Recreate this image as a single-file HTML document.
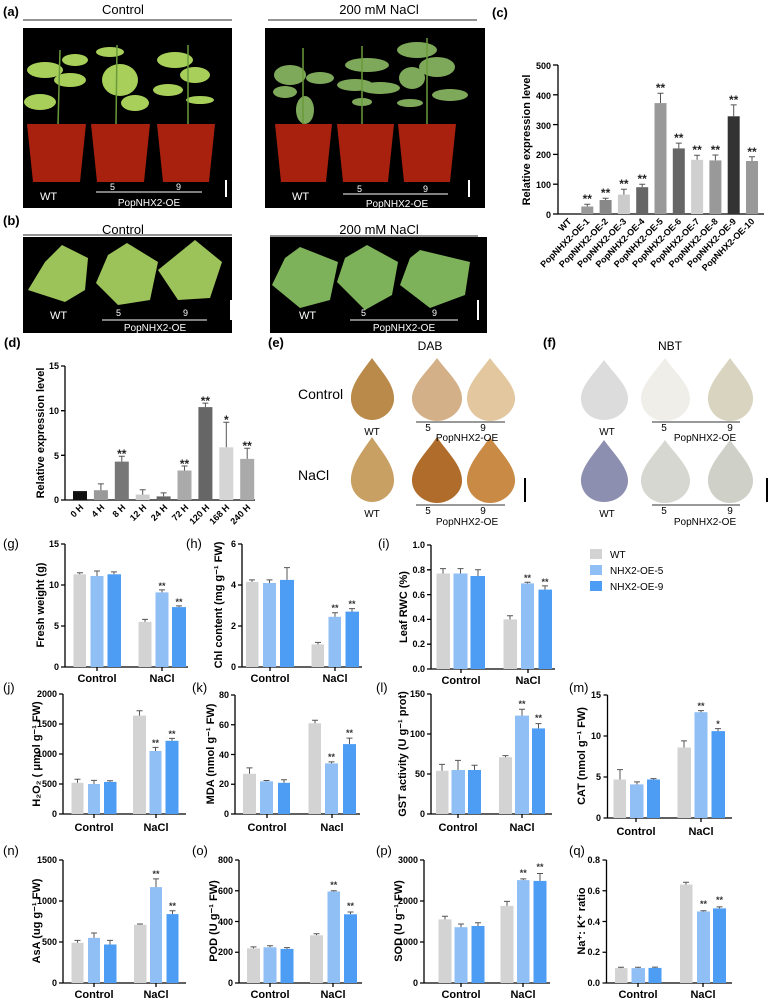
<!DOCTYPE html>
<html><head><meta charset="utf-8"><style>
body{margin:0;background:#fff}
svg{display:block}
text{font-family:"Liberation Sans",sans-serif}
.t{font-size:9px;font-weight:bold}
.yl{font-size:11px;font-weight:bold}
.xl{font-size:11px;font-weight:bold}
.pl{font-size:13px}
.st{font-size:9px;font-weight:bold;fill:#333}
.ax{stroke:#000;stroke-width:1.3;fill:none}
.e{stroke:#555;stroke-width:1;fill:none}
.w{fill:#d3d3d3}.a{fill:#8fbff5}.b{fill:#4d9df5}
.wt{fill:#fff;font-size:11px}
</style></head><body>
<svg width="769" height="1000" viewBox="0 0 769 1000" xmlns="http://www.w3.org/2000/svg">
<!-- (a) -->
<text x="3" y="16" class="pl" font-weight="bold">(a)</text>
<text x="123" y="14" class="pl" text-anchor="middle">Control</text>
<line x1="23" y1="20" x2="232" y2="20" stroke="#555" stroke-width="1.2"/>
<text x="379" y="14" class="pl" text-anchor="middle">200 mM NaCl</text>
<line x1="268" y1="20" x2="477" y2="20" stroke="#555" stroke-width="1.2"/>
<rect x="23" y="28" width="209" height="180" fill="#000"/>
<rect x="265" y="28" width="220" height="180" fill="#000"/>
<g fill="#a8cf5a">
<ellipse cx="45" cy="70" rx="18" ry="8"/><ellipse cx="70" cy="80" rx="16" ry="7"/><ellipse cx="40" cy="102" rx="16" ry="8"/><ellipse cx="75" cy="60" rx="13" ry="6"/>
<ellipse cx="120" cy="80" rx="18" ry="16"/><ellipse cx="135" cy="103" rx="14" ry="8"/><ellipse cx="110" cy="52" rx="14" ry="5"/>
<ellipse cx="175" cy="60" rx="18" ry="8"/><ellipse cx="195" cy="75" rx="15" ry="8"/><ellipse cx="168" cy="90" rx="15" ry="6"/><ellipse cx="200" cy="100" rx="14" ry="4"/>
</g>
<g fill="#7ea85a">
<ellipse cx="290" cy="75" rx="16" ry="10"/><ellipse cx="320" cy="78" rx="14" ry="6"/><ellipse cx="305" cy="110" rx="9" ry="14"/><ellipse cx="285" cy="92" rx="12" ry="6"/>
<ellipse cx="367" cy="65" rx="22" ry="7"/><ellipse cx="355" cy="85" rx="18" ry="6"/><ellipse cx="380" cy="88" rx="20" ry="6"/><ellipse cx="362" cy="102" rx="10" ry="4"/>
<ellipse cx="417" cy="50" rx="20" ry="8"/><ellipse cx="437" cy="67" rx="18" ry="10"/><ellipse cx="412" cy="78" rx="13" ry="11"/><ellipse cx="450" cy="95" rx="18" ry="6"/><ellipse cx="410" cy="103" rx="13" ry="4"/>
</g>
<g stroke="#6a9a3a" stroke-width="1.5">
<line x1="60" y1="50" x2="58" y2="125"/><line x1="117" y1="45" x2="116" y2="125"/><line x1="188" y1="45" x2="188" y2="125"/>
<line x1="303" y1="48" x2="303" y2="125"/><line x1="362" y1="46" x2="362" y2="125"/><line x1="427" y1="38" x2="427" y2="125"/>
</g>
<g fill="#a8200e">
<path d="M27 124 H86 L80 182 H33Z"/><path d="M91 124 H150 L144 182 H97Z"/><path d="M157 124 H215 L209 182 H163Z"/>
<path d="M275 124 H332 L326 182 H281Z"/><path d="M337 124 H394 L388 182 H343Z"/><path d="M398 124 H456 L450 182 H404Z"/>
</g>
<g fill="#fff">
<text x="40" y="200" class="wt">WT</text><text x="110" y="190" font-size="9">5</text><text x="176" y="190" font-size="9">9</text>
<text x="149" y="206" text-anchor="middle" font-size="10">PopNHX2-OE</text>
<text x="292" y="200" class="wt">WT</text><text x="357" y="192" font-size="9">5</text><text x="423" y="192" font-size="9">9</text>
<text x="397" y="207" text-anchor="middle" font-size="10">PopNHX2-OE</text>
</g>
<g stroke="#fff" stroke-width="1"><line x1="96" y1="192" x2="202" y2="192"/><line x1="343" y1="194" x2="448" y2="194"/></g>
<g stroke="#fff" stroke-width="2"><line x1="226" y1="180" x2="226" y2="197"/><line x1="469" y1="180" x2="469" y2="197"/></g>
<!-- (b) -->
<text x="3" y="225" class="pl" font-weight="bold">(b)</text>
<text x="123" y="234" class="pl" text-anchor="middle">Control</text>
<line x1="23" y1="235" x2="232" y2="235" stroke="#555" stroke-width="1.2"/>
<text x="379" y="234" class="pl" text-anchor="middle">200 mM NaCl</text>
<line x1="270" y1="236" x2="478" y2="236" stroke="#555" stroke-width="1.2"/>
<rect x="23" y="237" width="209" height="96" fill="#000"/>
<rect x="270" y="237" width="217" height="96" fill="#000"/>
<g fill="#9cc35a">
<path d="M62 245 L88 258 L85 290 L65 302 L28 290 L45 262Z"/><path d="M127 243 L158 262 L150 300 L118 305 L96 283 L108 255Z"/><path d="M195 240 L222 262 L210 298 L178 300 L158 270Z"/>
</g>
<g fill="#7eb25a">
<path d="M300 247 L338 262 L330 300 L300 308 L272 285 L285 258Z"/><path d="M367 245 L398 262 L392 295 L365 310 L337 282 L345 258Z"/><path d="M420 250 L470 262 L465 295 L430 308 L400 285 L410 258Z"/>
</g>
<g fill="#fff">
<text x="50" y="319" class="wt">WT</text><text x="116" y="316" font-size="9">5</text><text x="183" y="316" font-size="9">9</text>
<text x="155" y="331" text-anchor="middle" font-size="10">PopNHX2-OE</text>
<text x="299" y="319" class="wt">WT</text><text x="361" y="316" font-size="9">5</text><text x="432" y="316" font-size="9">9</text>
<text x="404" y="331" text-anchor="middle" font-size="10">PopNHX2-OE</text>
</g>
<g stroke="#fff" stroke-width="1"><line x1="102" y1="320" x2="207" y2="320"/><line x1="350" y1="320" x2="458" y2="320"/></g>
<g stroke="#fff" stroke-width="2"><line x1="231" y1="300" x2="231" y2="320"/><line x1="478" y1="300" x2="478" y2="320"/></g>

<!-- (c) -->
<text x="492" y="17" class="pl" font-weight="bold">(c)</text>
<text transform="translate(530,140) rotate(-90)" class="yl" text-anchor="middle" font-size="12">Relative expression level</text>
<line x1="558" y1="65" x2="558" y2="214" class="ax"/>
<line x1="558" y1="214" x2="764" y2="214" class="ax"/>
<g class="ax"><line x1="553" y1="214" x2="558" y2="214"/><line x1="553" y1="184.2" x2="558" y2="184.2"/><line x1="553" y1="154.4" x2="558" y2="154.4"/><line x1="553" y1="124.6" x2="558" y2="124.6"/><line x1="553" y1="94.8" x2="558" y2="94.8"/><line x1="553" y1="65" x2="558" y2="65"/></g>
<g class="t" text-anchor="end" font-size="11"><text x="551" y="218">0</text><text x="551" y="188">100</text><text x="551" y="158">200</text><text x="551" y="129">300</text><text x="551" y="99">400</text><text x="551" y="69">500</text></g>
<rect x="581.3" y="206.5" width="12" height="7.5" fill="#999"/>
<rect x="599.6" y="200" width="12" height="14" fill="#888"/>
<rect x="617.9" y="194.6" width="12" height="19.4" fill="#ccc"/>
<rect x="636.2" y="187.2" width="12" height="26.8" fill="#666"/>
<rect x="654.5" y="103.1" width="12" height="110.9" fill="#999"/>
<rect x="672.8" y="148.4" width="12" height="65.6" fill="#666"/>
<rect x="691.1" y="159.8" width="12" height="54.2" fill="#d0d0d0"/>
<rect x="709.4" y="160.4" width="12" height="53.6" fill="#999"/>
<rect x="727.7" y="116.3" width="12" height="97.7" fill="#333"/>
<rect x="746" y="161" width="12" height="53" fill="#999"/>
<g class="e"><path d="M587.3 206.5V204.2M584.3 204.2h6M605.6 200V198.2M602.6 198.2h6M623.9 194.6V189.3M620.9 189.3h6M642.2 187.2V184.2M639.2 184.2h6M660.5 103.1V93.3M657.5 93.3h6M678.8 148.4V143.1M675.8 143.1h6M697.1 159.8V155.3M694.1 155.3h6M715.4 160.4V155M712.4 155h6M733.7 116.3V104.9M730.7 104.9h6M752 161V156.8M749 156.8h6"/></g>
<g font-size="12" font-weight="bold" text-anchor="middle" fill="#222"><text x="587.3" y="203">**</text><text x="605.6" y="197">**</text><text x="623.9" y="188">**</text><text x="642.2" y="183">**</text><text x="660.5" y="92">**</text><text x="678.8" y="142">**</text><text x="697.1" y="154">**</text><text x="715.4" y="154">**</text><text x="733.7" y="104">**</text><text x="752" y="156">**</text></g>
<g class="t" font-size="9.5" text-anchor="end">
<text transform="translate(572,222) rotate(-45)">WT</text>
<text transform="translate(590,222) rotate(-45)">PopNHX2-OE-1</text>
<text transform="translate(608.6,222) rotate(-45)">PopNHX2-OE-2</text>
<text transform="translate(626.9,222) rotate(-45)">PopNHX2-OE-3</text>
<text transform="translate(645.2,222) rotate(-45)">PopNHX2-OE-4</text>
<text transform="translate(663.5,222) rotate(-45)">PopNHX2-OE-5</text>
<text transform="translate(681.8,222) rotate(-45)">PopNHX2-OE-6</text>
<text transform="translate(700.1,222) rotate(-45)">PopNHX2-OE-7</text>
<text transform="translate(718.4,222) rotate(-45)">PopNHX2-OE-8</text>
<text transform="translate(736.7,222) rotate(-45)">PopNHX2-OE-9</text>
<text transform="translate(755,222) rotate(-45)">PopNHX2-OE-10</text>
</g>

<!-- (d) -->
<text x="4" y="347" class="pl" font-weight="bold">(d)</text>
<text transform="translate(44,433) rotate(-90)" class="yl" text-anchor="middle">Relative expression level</text>
<line x1="65" y1="366" x2="65" y2="500" class="ax"/><line x1="65" y1="500" x2="255" y2="500" class="ax"/>
<g class="ax"><path d="M61 500h4M61 455.3h4M61 410.7h4M61 366h4"/></g>
<g class="t" text-anchor="end"><text x="59" y="503">0</text><text x="59" y="459">5</text><text x="59" y="414">10</text><text x="59" y="369">15</text></g>
<rect x="73" y="491.1" width="14" height="8.9" fill="#111"/>
<rect x="93.9" y="490.2" width="14" height="9.8" fill="#999"/>
<rect x="114.8" y="461.6" width="14" height="38.4" fill="#777"/>
<rect x="135.7" y="494.6" width="14" height="5.4" fill="#ccc"/>
<rect x="156.6" y="496.4" width="14" height="3.6" fill="#666"/>
<rect x="177.5" y="470.5" width="14" height="29.5" fill="#aaa"/>
<rect x="198.4" y="407.1" width="14" height="92.9" fill="#666"/>
<rect x="219.3" y="447.3" width="14" height="52.7" fill="#d5d5d5"/>
<rect x="240.2" y="458.9" width="14" height="41.1" fill="#aaa"/>
<g class="e"><path d="M100.9 490.2V483.9M97.9 483.9h6M121.8 461.6V456.2M118.8 456.2h6M142.7 494.6V489.7M139.7 489.7h6M163.6 496.4V492.9M160.6 492.9h6M184.5 470.5V466M181.5 466h6M205.4 407.1V403.1M202.4 403.1h6M226.3 447.3V422.3M223.3 422.3h6M247.2 458.9V448.2M244.2 448.2h6"/></g>
<g font-size="12" font-weight="bold" text-anchor="middle" fill="#222"><text x="121.8" y="458">**</text><text x="184.5" y="468">**</text><text x="205.4" y="405">**</text><text x="226.3" y="424">*</text><text x="247.2" y="450">**</text></g>
<g class="t" text-anchor="end">
<text transform="translate(84,508) rotate(-45)">0 H</text><text transform="translate(105,508) rotate(-45)">4 H</text><text transform="translate(126,508) rotate(-45)">8 H</text><text transform="translate(147,508) rotate(-45)">12 H</text><text transform="translate(168,508) rotate(-45)">24 H</text><text transform="translate(189,508) rotate(-45)">72 H</text><text transform="translate(210,508) rotate(-45)">120 H</text><text transform="translate(230,508) rotate(-45)">168 H</text><text transform="translate(251,508) rotate(-45)">240 H</text>
</g>

<!-- (e) -->
<text x="268" y="347" class="pl" font-weight="bold">(e)</text>
<text x="430" y="350" font-size="12" text-anchor="middle">DAB</text>
<text x="298" y="399" font-size="14">Control</text>
<text x="298" y="480" font-size="14">NaCl</text>
<g>
<path d="M372 358 C362 372 350 385 351 400 C352 412 362 420 372 420 C382 420 393 412 394 400 C395 385 382 372 372 358Z" fill="#b98a4a"/>
<path d="M437 358 C427 372 411 385 412 400 C413 412 425 421 437 421 C449 421 461 412 462 400 C463 385 447 372 437 358Z" fill="#d4b088"/>
<path d="M490 358 C480 372 466 385 467 400 C468 412 478 421 490 421 C502 421 514 412 515 400 C516 385 500 372 490 358Z" fill="#e3c79f"/>
<path d="M372 437 C362 452 350 466 351 482 C352 494 362 502 372 502 C382 502 393 494 394 482 C395 466 382 452 372 437Z" fill="#c9a063"/>
<path d="M437 437 C427 452 411 466 412 482 C413 494 425 503 437 503 C449 503 461 494 462 482 C463 466 447 452 437 437Z" fill="#b06c2a"/>
<path d="M490 437 C480 452 466 466 467 482 C468 494 478 503 490 503 C502 503 514 494 515 482 C516 466 500 452 490 437Z" fill="#c88a45"/>
</g>
<g stroke="#333" stroke-width="1"><line x1="416" y1="422" x2="505" y2="422"/><line x1="416" y1="505" x2="505" y2="505"/></g>
<line x1="525" y1="478" x2="525" y2="502" stroke="#000" stroke-width="2"/>
<g font-size="10" text-anchor="middle"><text x="372" y="435">WT</text><text x="428" y="431">5</text><text x="483" y="431">9</text><text x="467" y="441">PopNHX2-OE</text>
<text x="372" y="517">WT</text><text x="428" y="514">5</text><text x="483" y="514">9</text><text x="467" y="525">PopNHX2-OE</text></g>

<!-- (f) -->
<text x="543" y="347" class="pl" font-weight="bold">(f)</text>
<text x="670" y="350" font-size="12" text-anchor="middle">NBT</text>
<path d="M604 360 C594 374 580 386 581 400 C582 412 592 420 604 420 C616 420 627 412 628 400 C629 386 614 374 604 360Z" fill="#dcdcdc"/>
<path d="M665 358 C655 372 640 386 641 400 C642 412 652 421 665 421 C678 421 689 412 690 400 C691 386 675 372 665 358Z" fill="#f0eee8"/>
<path d="M730 358 C720 372 707 386 708 400 C709 412 718 421 730 421 C742 421 752 412 753 400 C754 386 740 372 730 358Z" fill="#d8d4c0"/>
<path d="M604 440 C594 454 580 468 581 482 C582 494 592 502 604 502 C616 502 627 494 628 482 C629 468 614 454 604 440Z" fill="#8d8fb0"/>
<path d="M665 440 C655 454 640 468 641 482 C642 494 652 503 665 503 C678 503 689 494 690 482 C691 468 675 454 665 440Z" fill="#d6d7d0"/>
<path d="M730 440 C720 454 707 468 708 482 C709 494 718 503 730 503 C742 503 752 494 753 482 C754 468 740 454 730 440Z" fill="#cfd0c8"/>
<g stroke="#333" stroke-width="1"><line x1="652" y1="422" x2="740" y2="422"/><line x1="652" y1="505" x2="740" y2="505"/></g>
<line x1="767" y1="478" x2="767" y2="502" stroke="#000" stroke-width="2"/>
<g font-size="10" text-anchor="middle"><text x="607" y="435">WT</text><text x="664" y="431">5</text><text x="730" y="431">9</text><text x="705" y="441">PopNHX2-OE</text>
<text x="607" y="517">WT</text><text x="664" y="514">5</text><text x="730" y="514">9</text><text x="705" y="525">PopNHX2-OE</text></g>

<!-- legend -->
<rect x="590" y="549" width="12" height="10" class="w"/><rect x="590" y="565" width="12" height="10" class="a"/><rect x="590" y="581" width="12" height="10" class="b"/>
<g font-size="10"><text x="610" y="558">WT</text><text x="610" y="574">NHX2-OE-5</text><text x="610" y="590">NHX2-OE-9</text></g>

<!-- (g) -->
<text x="3" y="548" class="pl">(g)</text>
<text transform="translate(44,605) rotate(-90)" class="yl" text-anchor="middle">Fresh weight (g)</text>
<line x1="65" y1="544" x2="65" y2="667" class="ax"/><line x1="65" y1="667" x2="188" y2="667" class="ax"/>
<g class="ax"><path d="M61 667h4M61 626h4M61 585h4M61 544h4M97 667v4M162 667v4"/></g>
<g class="t" text-anchor="end"><text x="59" y="670">0</text><text x="59" y="629">5</text><text x="59" y="588">10</text><text x="59" y="547">15</text></g>
<rect x="73.5" y="574.3" width="12.5" height="92.7" class="w"/><rect x="90.5" y="576" width="13" height="91" class="a"/><rect x="107.5" y="574.3" width="13.5" height="92.7" class="b"/>
<rect x="138.5" y="621.9" width="13" height="45.1" class="w"/><rect x="155.5" y="592.4" width="13" height="74.6" class="a"/><rect x="172" y="607.1" width="14" height="59.9" class="b"/>
<g class="e"><path d="M79.7 574.3V572.7M77 572.7h6M97 576V571M94 571h6M114 574.3V571.9M111 571.9h6M145 621.9V619.4M142 619.4h6M162 592.4V589.9M159 589.9h6M179 607.1V605.9M176 605.9h6"/></g>
<g class="st" text-anchor="middle"><text x="162" y="589">**</text><text x="179" y="605">**</text></g>
<g class="xl" text-anchor="middle"><text x="97" y="682">Control</text><text x="162" y="682">NaCl</text></g>

<!-- (h) -->
<text x="186" y="548" class="pl">(h)</text>
<text transform="translate(222,605) rotate(-90)" class="yl" text-anchor="middle">Chl content (mg g⁻¹ FW)</text>
<line x1="242" y1="544" x2="242" y2="667" class="ax"/><line x1="242" y1="667" x2="362" y2="667" class="ax"/>
<g class="ax"><path d="M238 667h4M238 626h4M238 585h4M238 544h4M270 667v4M335 667v4"/></g>
<g class="t" text-anchor="end"><text x="236" y="670">0</text><text x="236" y="629">2</text><text x="236" y="588">4</text><text x="236" y="547">6</text></g>
<rect x="246" y="581.9" width="12.5" height="85.1" class="w"/><rect x="263" y="583" width="13" height="84" class="a"/><rect x="280" y="579.9" width="14" height="87.1" class="b"/>
<rect x="311.5" y="644.4" width="12.5" height="22.6" class="w"/><rect x="328.5" y="616.8" width="12.5" height="50.2" class="a"/><rect x="345.5" y="611.6" width="13.5" height="55.4" class="b"/>
<g class="e"><path d="M252 581.9V579.9M249 579.9h6M269.5 583V579.9M266.5 579.9h6M287 579.9V567.6M284 567.6h6M318 644.4V642.4M315 642.4h6M335 616.8V612.7M332 612.7h6M352 611.6V608.6M349 608.6h6"/></g>
<g class="st" text-anchor="middle"><text x="335" y="611">**</text><text x="352" y="607">**</text></g>
<g class="xl" text-anchor="middle"><text x="270" y="682">Control</text><text x="335" y="682">NaCl</text></g>

<!-- (i) -->
<text x="378" y="548" class="pl">(i)</text>
<text transform="translate(407,607) rotate(-90)" class="yl" text-anchor="middle">Leaf RWC (%)</text>
<line x1="431" y1="545" x2="431" y2="669" class="ax"/><line x1="431" y1="669" x2="555" y2="669" class="ax"/>
<g class="ax"><path d="M427 669h4M427 644.2h4M427 619.4h4M427 594.6h4M427 569.8h4M427 545h4M461 669v4M528 669v4"/></g>
<g class="t" text-anchor="end"><text x="425" y="672">0.0</text><text x="425" y="647">0.2</text><text x="425" y="622">0.4</text><text x="425" y="598">0.6</text><text x="425" y="573">0.8</text><text x="425" y="548">1.0</text></g>
<rect x="436.5" y="573.5" width="13.5" height="95.5" class="w"/><rect x="453.5" y="573.5" width="14" height="95.5" class="a"/><rect x="470.5" y="576" width="14.5" height="93" class="b"/>
<rect x="503.5" y="619.4" width="13.5" height="49.6" class="w"/><rect x="521" y="583.4" width="13" height="85.6" class="a"/><rect x="538.5" y="589.6" width="13.5" height="79.4" class="b"/>
<g class="e"><path d="M443 573.5V568.6M440 568.6h6M460.5 573.5V568.6M457.5 568.6h6M478 576V569.8M475 569.8h6M510 619.4V615.7M507 615.7h6M527.5 583.4V582.2M524.5 582.2h6M545 589.6V585.9M542 585.9h6"/></g>
<g class="st" text-anchor="middle"><text x="527.5" y="581">**</text><text x="545" y="585">**</text></g>
<g class="xl" text-anchor="middle"><text x="461" y="684">Control</text><text x="528" y="684">NaCl</text></g>

<!-- (j) -->
<text x="3" y="692" class="pl">(j)</text>
<text transform="translate(40,754) rotate(-90)" class="yl" text-anchor="middle">H₂O₂ ( μmol g⁻¹ FW)</text>
<line x1="63" y1="694" x2="63" y2="814" class="ax"/><line x1="63" y1="814" x2="186" y2="814" class="ax"/>
<g class="ax"><path d="M59 814h4M59 784h4M59 754h4M59 724h4M59 694h4M94 814v4M156 814v4"/></g>
<g class="t" text-anchor="end"><text x="57" y="817">0</text><text x="57" y="787">500</text><text x="57" y="757">1000</text><text x="57" y="727">1500</text><text x="57" y="697">2000</text></g>
<rect x="71.5" y="782.8" width="12" height="31.2" class="w"/><rect x="88" y="784" width="12" height="30" class="a"/><rect x="104" y="781.9" width="12.5" height="32.1" class="b"/>
<rect x="133" y="715.6" width="13" height="98.4" class="w"/><rect x="149.5" y="751" width="12" height="63" class="a"/><rect x="165.5" y="740.8" width="13" height="73.2" class="b"/>
<g class="e"><path d="M77.5 782.8V779.2M74.5 779.2h6M94 784V780.4M91 780.4h6M110 781.9V780.7M107 780.7h6M139.5 715.6V710.8M136.5 710.8h6M155.5 751V747.4M152.5 747.4h6M172 740.8V738.4M169 738.4h6"/></g>
<g class="st" text-anchor="middle"><text x="155.5" y="746">**</text><text x="172" y="737">**</text></g>
<g class="xl" text-anchor="middle"><text x="94" y="831">Control</text><text x="156" y="831">NaCl</text></g>

<!-- (k) -->
<text x="192" y="692" class="pl">(k)</text>
<text transform="translate(214,754) rotate(-90)" class="yl" text-anchor="middle">MDA (nmol g⁻¹ FW)</text>
<line x1="235" y1="695" x2="235" y2="814" class="ax"/><line x1="235" y1="814" x2="360" y2="814" class="ax"/>
<g class="ax"><path d="M231 814h4M231 784.25h4M231 754.5h4M231 724.75h4M231 695h4M267 814v4M332 814v4"/></g>
<g class="t" text-anchor="end"><text x="229" y="817">0</text><text x="229" y="787">20</text><text x="229" y="758">40</text><text x="229" y="728">60</text><text x="229" y="698">80</text></g>
<rect x="243" y="773.8" width="13" height="40.2" class="w"/><rect x="260" y="781.3" width="13" height="32.7" class="a"/><rect x="278" y="782.8" width="12" height="31.2" class="b"/>
<rect x="308.5" y="723.3" width="12.5" height="90.7" class="w"/><rect x="325" y="763.4" width="13" height="50.6" class="a"/><rect x="343" y="744.1" width="13" height="69.9" class="b"/>
<g class="e"><path d="M249.5 773.8V767.9M246.5 767.9h6M266.5 781.3V780.5M263.5 780.5h6M284 782.8V779.8M281 779.8h6M315 723.3V720.3M312 720.3h6M331.5 763.4V761.9M328.5 761.9h6M349.5 744.1V738.1M346.5 738.1h6"/></g>
<g class="st" text-anchor="middle"><text x="331.5" y="760">**</text><text x="349.5" y="736">**</text></g>
<g class="xl" text-anchor="middle"><text x="267" y="831">Control</text><text x="332" y="831">Nacl</text></g>

<!-- (l) -->
<text x="376" y="692" class="pl">(l)</text>
<text transform="translate(406,754) rotate(-90)" class="yl" text-anchor="middle">GST activity (U g⁻¹ prot)</text>
<line x1="431" y1="694" x2="431" y2="814" class="ax"/><line x1="431" y1="814" x2="552" y2="814" class="ax"/>
<g class="ax"><path d="M427 814h4M427 774h4M427 734h4M427 694h4M458 814v4M522 814v4"/></g>
<g class="t" text-anchor="end"><text x="425" y="817">0</text><text x="425" y="777">50</text><text x="425" y="737">100</text><text x="425" y="697">150</text></g>
<rect x="436" y="770.8" width="12.5" height="43.2" class="w"/><rect x="451.5" y="770" width="13.5" height="44" class="a"/><rect x="468" y="770" width="13" height="44" class="b"/>
<rect x="499" y="757.2" width="13" height="56.8" class="w"/><rect x="515" y="715.6" width="14" height="98.4" class="a"/><rect x="532" y="728.4" width="13" height="85.6" class="b"/>
<g class="e"><path d="M442 770.8V764.4M439 764.4h6M458 770V760.4M455 760.4h6M474.5 770V765.2M471.5 765.2h6M505.5 757.2V755.6M502.5 755.6h6M522 715.6V709.2M519 709.2h6M538.5 728.4V723.6M535.5 723.6h6"/></g>
<g class="st" text-anchor="middle"><text x="522" y="707">**</text><text x="538.5" y="721">**</text></g>
<g class="xl" text-anchor="middle"><text x="458" y="831">Control</text><text x="522" y="831">NaCl</text></g>

<!-- (m) -->
<text x="569" y="692" class="pl">(m)</text>
<text transform="translate(585,756) rotate(-90)" class="yl" text-anchor="middle">CAT (nmol g⁻¹ FW)</text>
<line x1="607.5" y1="695" x2="607.5" y2="818" class="ax"/><line x1="607.5" y1="818" x2="732" y2="818" class="ax"/>
<g class="ax"><path d="M603.5 818h4M603.5 777h4M603.5 736h4M603.5 695h4M636 818v4M701 818v4"/></g>
<g class="t" text-anchor="end"><text x="601" y="821">0</text><text x="601" y="780">5</text><text x="601" y="739">10</text><text x="601" y="698">15</text></g>
<rect x="613.5" y="779.5" width="12.5" height="38.5" class="w"/><rect x="630" y="784.4" width="13.5" height="33.6" class="a"/><rect x="647" y="779.5" width="13" height="38.5" class="b"/>
<rect x="677.5" y="747.5" width="13.5" height="70.5" class="w"/><rect x="694.5" y="712.2" width="13" height="105.8" class="a"/><rect x="711.5" y="731.1" width="13.5" height="86.9" class="b"/>
<g class="e"><path d="M620 779.5V769.6M617 769.6h6M637 784.4V781.9M634 781.9h6M653.5 779.5V778.6M650.5 778.6h6M684 747.5V740.9M681 740.9h6M701 712.2V710.6M698 710.6h6M718 731.1V728.6M715 728.6h6"/></g>
<g class="st" text-anchor="middle"><text x="701" y="709">**</text><text x="718" y="727">*</text></g>
<g class="xl" text-anchor="middle"><text x="636" y="835">Control</text><text x="701" y="835">NaCl</text></g>

<!-- (n) -->
<text x="3" y="855" class="pl">(n)</text>
<text transform="translate(40,921) rotate(-90)" class="yl" text-anchor="middle">AsA (ug g⁻¹ FW)</text>
<line x1="63" y1="860" x2="63" y2="983" class="ax"/><line x1="63" y1="983" x2="186" y2="983" class="ax"/>
<g class="ax"><path d="M59 983h4M59 942h4M59 901h4M59 860h4M94 983v4M156 983v4"/></g>
<g class="t" text-anchor="end"><text x="57" y="986">0</text><text x="57" y="945">500</text><text x="57" y="904">1000</text><text x="57" y="863">1500</text></g>
<rect x="71.5" y="942.8" width="12" height="40.2" class="w"/><rect x="88" y="937.9" width="12" height="45.1" class="a"/><rect x="104" y="944.5" width="12.5" height="38.5" class="b"/>
<rect x="134" y="924.8" width="12.5" height="58.2" class="w"/><rect x="150" y="887.1" width="12" height="95.9" class="a"/><rect x="166.5" y="914.1" width="12" height="68.9" class="b"/>
<g class="e"><path d="M77.5 942.8V940.4M74.5 940.4h6M94 937.9V933M91 933h6M110 944.5V940.4M107 940.4h6M140 924.8V924M137 924h6M156 887.1V878.9M153 878.9h6M172.5 914.1V910.8M169.5 910.8h6"/></g>
<g class="st" text-anchor="middle"><text x="156" y="877">**</text><text x="172.5" y="909">**</text></g>
<g class="xl" text-anchor="middle"><text x="94" y="998">Control</text><text x="156" y="998">NaCl</text></g>

<!-- (o) -->
<text x="192" y="855" class="pl">(o)</text>
<text transform="translate(217,921) rotate(-90)" class="yl" text-anchor="middle">POD (U g⁻¹ FW)</text>
<line x1="239" y1="860" x2="239" y2="983" class="ax"/><line x1="239" y1="983" x2="362" y2="983" class="ax"/>
<g class="ax"><path d="M235 983h4M235 952.25h4M235 921.5h4M235 890.75h4M235 860h4M270 983v4M333 983v4"/></g>
<g class="t" text-anchor="end"><text x="233" y="986">0</text><text x="233" y="955">200</text><text x="233" y="925">400</text><text x="233" y="894">600</text><text x="233" y="863">800</text></g>
<rect x="247" y="948.4" width="13" height="34.6" class="w"/><rect x="263.5" y="947.3" width="13" height="35.7" class="a"/><rect x="280.5" y="948.9" width="13" height="34.1" class="b"/>
<rect x="310" y="935.3" width="13" height="47.7" class="w"/><rect x="327.5" y="891.5" width="12.5" height="91.5" class="a"/><rect x="344" y="914.3" width="13" height="68.7" class="b"/>
<g class="e"><path d="M253.5 948.4V946.9M250.5 946.9h6M270 947.3V945.8M267 945.8h6M287 948.9V947.6M284 947.6h6M316.5 935.3V933.8M313.5 933.8h6M333.8 891.5V890.7M330.8 890.7h6M350.5 914.3V912M347.5 912h6"/></g>
<g class="st" text-anchor="middle"><text x="333.8" y="888">**</text><text x="350.5" y="909">**</text></g>
<g class="xl" text-anchor="middle"><text x="270" y="998">Control</text><text x="333" y="998">NaCl</text></g>

<!-- (p) -->
<text x="376" y="855" class="pl">(p)</text>
<text transform="translate(402,921) rotate(-90)" class="yl" text-anchor="middle">SOD (U g⁻¹ FW)</text>
<line x1="424" y1="860" x2="424" y2="983" class="ax"/><line x1="424" y1="983" x2="550" y2="983" class="ax"/>
<g class="ax"><path d="M420 983h4M420 942h4M420 901h4M420 860h4M461 983v4M523 983v4"/></g>
<g class="t" text-anchor="end"><text x="418" y="986">0</text><text x="418" y="945">1000</text><text x="418" y="904">2000</text><text x="418" y="863">3000</text></g>
<rect x="438.5" y="919.4" width="13" height="63.6" class="w"/><rect x="454.5" y="927.2" width="13" height="55.8" class="a"/><rect x="471.5" y="926" width="13" height="57" class="b"/>
<rect x="500.5" y="905.9" width="13" height="77.1" class="w"/><rect x="517" y="880.1" width="12.5" height="102.9" class="a"/><rect x="533.5" y="880.9" width="13" height="102.1" class="b"/>
<g class="e"><path d="M445 919.4V916.2M442 916.2h6M461 927.2V924M458 924h6M478 926V922.7M475 922.7h6M507 905.9V901.4M504 901.4h6M523.3 880.1V878.9M520.3 878.9h6M540 880.9V873.5M537 873.5h6"/></g>
<g class="st" text-anchor="middle"><text x="523.3" y="876">**</text><text x="540" y="870">**</text></g>
<g class="xl" text-anchor="middle"><text x="461" y="998">Control</text><text x="523" y="998">NaCl</text></g>

<!-- (q) -->
<text x="569" y="855" class="pl">(q)</text>
<text transform="translate(585,921) rotate(-90)" class="yl" text-anchor="middle">Na⁺: K⁺ ratio</text>
<line x1="606.5" y1="860" x2="606.5" y2="983" class="ax"/><line x1="606.5" y1="983" x2="732" y2="983" class="ax"/>
<g class="ax"><path d="M602.5 983h4M602.5 952.25h4M602.5 921.5h4M602.5 890.75h4M602.5 860h4M638 983v4M703 983v4"/></g>
<g class="t" text-anchor="end"><text x="600" y="986">0.0</text><text x="600" y="955">0.2</text><text x="600" y="925">0.4</text><text x="600" y="894">0.6</text><text x="600" y="863">0.8</text></g>
<rect x="615" y="968.1" width="12.5" height="14.9" class="w"/><rect x="631.5" y="968.1" width="13.5" height="14.9" class="a"/><rect x="648.5" y="967.9" width="13" height="15.1" class="b"/>
<rect x="680" y="884.6" width="12.5" height="98.4" class="w"/><rect x="697" y="911.5" width="13" height="71.5" class="a"/><rect x="713" y="908.4" width="13" height="74.6" class="b"/>
<g class="e"><path d="M621 968.1V967.3M618 967.3h6M638 968.1V967.3M635 967.3h6M655 967.9V967.1M652 967.1h6M686 884.6V882.3M683 882.3h6M703.5 911.5V910.7M700.5 910.7h6M719.5 908.4V906.9M716.5 906.9h6"/></g>
<g class="st" text-anchor="middle"><text x="703.5" y="907">**</text><text x="719.5" y="903">**</text></g>
<g class="xl" text-anchor="middle"><text x="638" y="998">Control</text><text x="703" y="998">NaCl</text></g>
</svg>
</body></html>
